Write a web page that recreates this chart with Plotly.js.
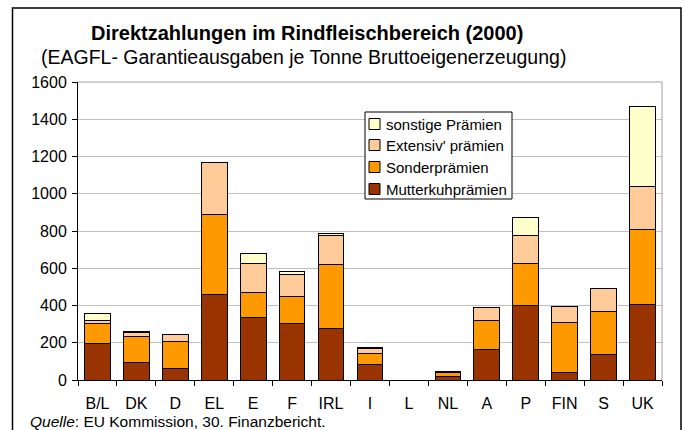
<!DOCTYPE html>
<html>
<head>
<meta charset="utf-8">
<script src="https://cdn.plot.ly/plotly-3.0.1.min.js"></script>
<style>body{margin:0;padding:0;background:#fff;}#chart{width:685px;height:430px;}</style>
</head>
<body>
<div id="chart"></div>
<script>
const categories = ["B/L","DK","D","EL","E","F","IRL","I","L","NL","A","P","FIN","S","UK"];
const mutterkuh = [195, 93, 61, 460, 335, 302, 277, 84, 0, 21, 165, 401, 38, 138, 405];
const sonder    = [110, 143, 148, 428, 134, 144, 341, 59, 0, 20, 157, 225, 272, 231, 402];
const extensiv  = [17, 20, 34, 281, 157, 121, 157, 25, 0, 4, 66, 151, 82, 120, 233];
const sonstige  = [33, 2, 0, 0, 51, 13, 13, 9, 0, 0, 0, 96, 2, 0, 426];
const seriesNames = ["Mutterkuhprämien","Sonderprämien","Extensiv' prämien","sonstige Prämien"];
const seriesColors = ["#993300","#FF9900","#FFCC99","#FFFFCC"];
const seriesValues = [mutterkuh, sonder, extensiv, sonstige];

const traces = seriesValues.map((vals, i) => ({
  type: 'bar',
  name: seriesNames[i],
  x: categories,
  y: vals,
  marker: {color: seriesColors[i], line: {color: '#000000', width: 1}},
  showlegend: false
}));

// pixel helpers (plot area: x 78..662, y 82..380)
const L = 78, R = 662, T = 82, B = 380;
const px = p => (p - L) / (R - L);
const py = p => (B - p) / (B - T);
const FONT = 'Liberation Sans, Arial, sans-serif';

const shapes = [
  {type: 'line', xref: 'paper', yref: 'paper', x0: 0, x1: 1, y0: 1, y1: 1, line: {color: '#a0a0a0', width: 1}},
  {type: 'line', xref: 'paper', yref: 'paper', x0: 1, x1: 1, y0: 0, y1: 1, line: {color: '#a0a0a0', width: 1}},
  {type: 'rect', xref: 'paper', yref: 'paper', x0: px(12.5), x1: px(681), y0: py(8), y1: py(445), line: {color: '#000000', width: 1.5}, fillcolor: 'rgba(0,0,0,0)'},
  // legend box
  {type: 'rect', xref: 'paper', yref: 'paper', x0: px(365), x1: px(512), y0: py(199), y1: py(112), line: {color: '#000000', width: 1}, fillcolor: '#ffffff', layer: 'above'}
];
const annotations = [
  {xref: 'paper', yref: 'paper', x: px(307), y: py(33), xanchor: 'center', yanchor: 'middle', showarrow: false,
   text: '<b>Direktzahlungen im Rindfleischbereich (2000)</b>', font: {size: 20}},
  {xref: 'paper', yref: 'paper', x: px(303), y: py(57), xanchor: 'center', yanchor: 'middle', showarrow: false,
   text: '(EAGFL- Garantieausgaben je Tonne Bruttoeigenerzeugung)', font: {size: 19.5}},
  {xref: 'paper', yref: 'paper', x: px(28), y: py(421), xanchor: 'left', yanchor: 'middle', showarrow: false,
   text: '<i>Quelle</i>: EU Kommission, 30. Finanzbericht.', font: {size: 15.5}}
];
// legend entries (reversed order: top = last series)
const legendY = [189, 167, 145, 124];
seriesNames.forEach((name, i) => {
  const yc = legendY[i];
  shapes.push({type: 'rect', xref: 'paper', yref: 'paper', x0: px(369), x1: px(380), y0: py(yc + 5.5), y1: py(yc - 5.5),
    line: {color: '#000000', width: 1}, fillcolor: seriesColors[i], layer: 'above'});
  annotations.push({xref: 'paper', yref: 'paper', x: px(384), y: py(yc), xanchor: 'left', yanchor: 'middle', showarrow: false,
    text: name, font: {size: 15}});
});

const layout = {
  width: 685, height: 430,
  margin: {l: L, r: 685 - R, t: T, b: 430 - B, pad: 0},
  paper_bgcolor: '#ffffff',
  plot_bgcolor: '#ffffff',
  font: {family: FONT, color: '#000000', size: 15},
  barmode: 'stack',
  bargap: 0.34,
  showlegend: false,
  xaxis: {
    type: 'category',
    showline: true, linecolor: '#000000', linewidth: 1,
    ticks: 'outside', ticklen: 5, tickcolor: '#000000', tickson: 'boundaries',
    tickfont: {size: 16}, ticklabelstandoff: 9,
    showgrid: false, zeroline: false, fixedrange: true
  },
  yaxis: {
    range: [0, 1600], dtick: 200, tick0: 0,
    showline: true, linecolor: '#000000', linewidth: 1,
    ticks: 'outside', ticklen: 5, tickcolor: '#000000',
    tickfont: {size: 16}, ticklabelstandoff: 2,
    showgrid: true, gridcolor: '#c0c0c0', gridwidth: 1,
    zeroline: false, fixedrange: true
  },
  shapes: shapes,
  annotations: annotations
};

Plotly.newPlot('chart', traces, layout, {displayModeBar: false, staticPlot: true});
</script>
</body>
</html>
